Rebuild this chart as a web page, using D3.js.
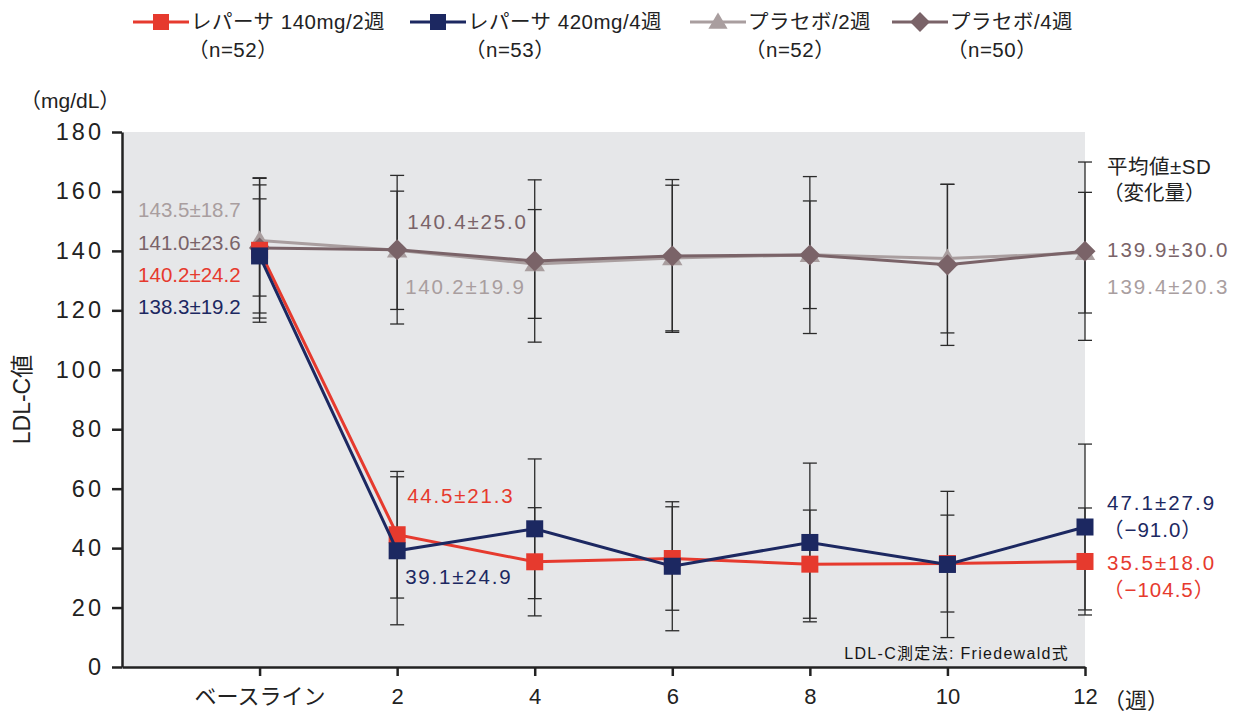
<!DOCTYPE html>
<html>
<head>
<meta charset="utf-8">
<script src="https://cdn.jsdelivr.net/npm/d3@7"></script>
<style>
  body { margin: 0; background: #fff; }
  text { font-family: "Liberation Sans", "Noto Sans CJK JP", sans-serif; }
</style>
</head>
<body>
<div id="chart"></div>
<script>
// Data
const weekLabels = ["ベースライン", "2", "4", "6", "8", "10", "12"];
const yTicks = [0, 20, 40, 60, 80, 100, 120, 140, 160, 180];

const seriesNames = ["レパーサ 140mg/2週", "レパーサ 420mg/4週", "プラセボ/2週", "プラセボ/4週"];
const seriesN = ["（n=52）", "（n=53）", "（n=52）", "（n=50）"];

const evo140Mean = [140.2, 44.5, 35.4, 36.5, 34.6, 34.8, 35.5];
const evo140SD   = [24.2, 21.3, 18.2, 17.4, 18.2, 16.3, 18.0];
const evo420Mean = [138.3, 39.1, 46.5, 33.9, 41.9, 34.5, 47.1];
const evo420SD   = [19.2, 24.9, 23.5, 21.7, 26.7, 24.6, 27.9];
const pbo2Mean   = [143.5, 140.2, 135.6, 137.6, 138.7, 137.4, 139.4];
const pbo2SD     = [18.7, 19.9, 18.3, 24.5, 18.1, 25.0, 20.3];
const pbo4Mean   = [141.0, 140.4, 136.6, 138.3, 138.6, 135.3, 139.9];
const pbo4SD     = [23.6, 25.0, 27.3, 25.7, 26.4, 27.1, 30.0];

// change from baseline at week 12
const evo140Change = "（−104.5）";
const evo420Change = "（−91.0）";

// Set up SVG
const W = 1241, H = 713;
const plot = {left: 122, right: 1085, top: 132, bottom: 667};

const svg = d3.select("#chart").append("svg")
  .attr("width", W)
  .attr("height", H);

const x = d3.scaleLinear().domain([-1, 6]).range([plot.left, plot.right]);
const y = d3.scaleLinear().domain([0, 180]).range([plot.bottom, plot.top]);

const series = [
  {name: seriesNames[2], n: seriesN[2], mean: pbo2Mean, sd: pbo2SD, color: "#a99e9f", shape: "triangle"},
  {name: seriesNames[3], n: seriesN[3], mean: pbo4Mean, sd: pbo4SD, color: "#7a6368", shape: "diamond"},
  {name: seriesNames[0], n: seriesN[0], mean: evo140Mean, sd: evo140SD, color: "#e63a2e", shape: "square"},
  {name: seriesNames[1], n: seriesN[1], mean: evo420Mean, sd: evo420SD, color: "#1c2861", shape: "square"}
];

function fmt(m, s) { return m.toFixed(1) + "±" + s.toFixed(1); }

// Background
svg.append("rect")
  .attr("x", plot.left).attr("y", plot.top)
  .attr("width", plot.right - plot.left)
  .attr("height", plot.bottom - plot.top)
  .attr("fill", "#e6e7e9");

// Error bars
const capW = 7;
series.forEach(s => {
  const g = svg.append("g").attr("stroke", "#2b2b2b").attr("stroke-width", 1.3);
  s.mean.forEach((m, i) => {
    const cx = x(i), top = y(m + s.sd[i]), bot = y(m - s.sd[i]);
    g.append("line").attr("x1", cx).attr("x2", cx).attr("y1", top).attr("y2", bot);
    g.append("line").attr("x1", cx - capW).attr("x2", cx + capW).attr("y1", top).attr("y2", top);
    g.append("line").attr("x1", cx - capW).attr("x2", cx + capW).attr("y1", bot).attr("y2", bot);
  });
});

// Markers
function marker(g, shape, color, size) {
  if (shape === "square") {
    g.append("rect").attr("x", -size / 2).attr("y", -size / 2)
      .attr("width", size).attr("height", size).attr("fill", color);
  } else if (shape === "triangle") {
    const h = size * 0.95;
    g.append("path").attr("d", `M0,${-h * 0.62}L${size * 0.6},${h * 0.45}L${-size * 0.6},${h * 0.45}Z`).attr("fill", color);
  } else {
    const r = size * 0.62;
    g.append("path").attr("d", `M0,${-r}L${r},0L0,${r}L${-r},0Z`).attr("fill", color);
  }
}

const line = d3.line().x((d, i) => x(i)).y(d => y(d));

series.forEach(s => {
  svg.append("path")
    .datum(s.mean)
    .attr("d", line)
    .attr("fill", "none")
    .attr("stroke", s.color)
    .attr("stroke-width", 3);
  s.mean.forEach((m, i) => {
    const g = svg.append("g").attr("transform", `translate(${x(i)},${y(m)})`);
    marker(g, s.shape, s.color, 17);
  });
});

// Axes
const yAxis = svg.append("g")
  .attr("transform", `translate(${plot.left},0)`)
  .call(d3.axisLeft(y).tickValues(yTicks).tickSize(10).tickSizeOuter(0).tickPadding(8));
yAxis.select(".domain").attr("stroke", "#222").attr("stroke-width", 2.5);
yAxis.selectAll(".tick line").attr("stroke", "#222").attr("stroke-width", 2.5);
yAxis.selectAll(".tick text")
  .style("font-size", "23.5px").style("letter-spacing", "3px").attr("fill", "#222");

const xAxis = svg.append("g")
  .attr("transform", `translate(0,${plot.bottom})`)
  .call(d3.axisBottom(x).tickValues(d3.range(weekLabels.length))
    .tickFormat(i => weekLabels[i]).tickSize(9).tickSizeOuter(0).tickPadding(12));
xAxis.select(".domain").attr("stroke", "#222").attr("stroke-width", 2.5);
xAxis.selectAll(".tick line").attr("stroke", "#222").attr("stroke-width", 2.5);
xAxis.selectAll(".tick text")
  .style("font-size", "22px").attr("fill", "#222");

svg.append("text")
  .attr("x", x(6) + 18).attr("y", 708)
  .style("font-size", "22px").attr("fill", "#222")
  .text("（週）");

svg.append("text")
  .attr("x", 20).attr("y", 108)
  .style("font-size", "21px").attr("fill", "#222")
  .text("（mg/dL）");

svg.append("text")
  .attr("transform", `translate(30,${y(90)}) rotate(-90)`)
  .attr("text-anchor", "middle")
  .style("font-size", "23px").attr("fill", "#222")
  .text("LDL-C値");

svg.append("text")
  .attr("x", plot.right - 16).attr("y", plot.bottom - 8)
  .attr("text-anchor", "end")
  .style("font-size", "16px").style("letter-spacing", "1.3px").attr("fill", "#151515")
  .text("LDL-C測定法: Friedewald式");

// Value labels
function label(tx, ty, txt, color, anchor, spacing) {
  svg.append("text")
    .attr("x", tx).attr("y", ty)
    .attr("dy", "0.35em")
    .attr("text-anchor", anchor || "start")
    .style("font-size", "20.5px")
    .style("letter-spacing", (spacing || 0) + "px")
    .attr("fill", color)
    .text(txt);
}
const [p2, p4, r140, r420] = series;

// baseline block, stacked
const bx = x(0) - 19;
label(bx, y(p2.mean[0]) - 31, fmt(p2.mean[0], p2.sd[0]), p2.color, "end");
label(bx, y(p4.mean[0]) - 5, fmt(p4.mean[0], p4.sd[0]), p4.color, "end");
label(bx, y(r140.mean[0]) + 25, fmt(r140.mean[0], r140.sd[0]), r140.color, "end");
label(bx, y(r420.mean[0]) + 51, fmt(r420.mean[0], r420.sd[0]), r420.color, "end");

// week 2
const w2x = x(1) + 10;
label(w2x, y(p4.mean[1]) - 28, fmt(p4.mean[1], p4.sd[1]), p4.color, "start", 1.8);
label(w2x - 2, y(p2.mean[1]) + 37, fmt(p2.mean[1], p2.sd[1]), p2.color, "start", 1.8);
label(w2x, y(r140.mean[1]) - 39, fmt(r140.mean[1], r140.sd[1]), r140.color, "start", 1.8);
label(w2x - 2, y(r420.mean[1]) + 26, fmt(r420.mean[1], r420.sd[1]), r420.color, "start", 1.8);

// week 12
const rx = x(6) + 22;
label(rx, 167, "平均値±SD", "#222", "start", 0.5);
label(rx - 4, 193, "（変化量）", "#222");
label(rx, y(p4.mean[6]) - 1, fmt(p4.mean[6], p4.sd[6]), p4.color, "start", 2);
label(rx, y(p2.mean[6]) + 34, fmt(p2.mean[6], p2.sd[6]), p2.color, "start", 2);
label(rx, y(r420.mean[6]) - 24, fmt(r420.mean[6], r420.sd[6]), r420.color, "start", 2);
label(rx - 4, y(r420.mean[6]) + 3, evo420Change, r420.color, "start", 1);
label(rx, y(r140.mean[6]) + 1.5, fmt(r140.mean[6], r140.sd[6]), r140.color, "start", 2);
label(rx - 4, y(r140.mean[6]) + 28, evo140Change, r140.color, "start", 1);

// Legend
const legendOrder = [r140, r420, p2, p4];
const legendX = [161, 438, 718, 920];
legendOrder.forEach((s, k) => {
  const g = svg.append("g").attr("transform", `translate(${legendX[k]},22)`);
  g.append("line").attr("x1", -28).attr("x2", 28).attr("y1", 0).attr("y2", 0)
    .attr("stroke", s.color).attr("stroke-width", 3);
  marker(g, s.shape, s.color, 16);
  g.append("text").attr("x", 30).attr("dy", "0.35em")
    .style("font-size", "20.5px").style("letter-spacing", "0.5px")
    .attr("fill", "#222").text(s.name);
  g.append("text").attr("x", 27).attr("y", 28).attr("dy", "0.35em")
    .style("font-size", "20.5px").style("letter-spacing", "0.5px")
    .attr("fill", "#222").text(s.n);
});
</script>
</body>
</html>
